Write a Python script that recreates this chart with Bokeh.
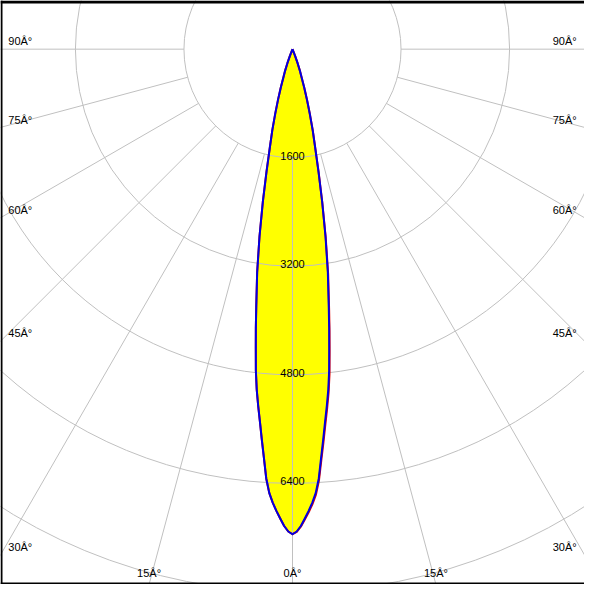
import numpy as np
from bokeh.plotting import figure
from bokeh.models import Range1d, ColumnDataSource, BoxAnnotation
from bokeh.core.properties import value
from bokeh.embed import file_html
from bokeh.resources import INLINE

# ---------------- data ----------------
angles_deg = [0, 0.5, 1, 1.5, 2, 2.5, 3, 3.5, 4, 4.5, 5, 5.5, 6, 6.5, 7, 7.5, 8,
              9, 10, 11, 12, 13, 14, 15, 16, 17, 18, 19, 20, 21, 22, 23]
# C90-C270 plane (blue), candela
intensity_blue = [7150, 7110, 7030, 6920, 6810, 6690, 6550, 6340, 6040, 5770, 5510, 5280,
                  5045, 4770, 4440, 4140, 3840,
                  3330, 2800, 2290, 1840, 1480, 1230, 980, 770, 590, 420, 330, 220, 110, 30, 0]
# C0-C180 plane (red), candela
intensity_red = [7150, 7115, 7040, 6935, 6830, 6715, 6580, 6375, 6080, 5815, 5555, 5325,
                 5090, 4820, 4490, 4180, 3880,
                 3360, 2820, 2300, 1850, 1485, 1235, 985, 775, 590, 420, 330, 220, 110, 30, 0]

ring_values = [1600, 3200, 4800, 6400, 8000]
ring_labels = ["1600", "3200", "4800", "6400"]

spoke_angles = [-90, -75, -60, -45, -30, -15, 0, 15, 30, 45, 60, 75, 90]
spoke_labels = ["90Â°", "75Â°", "60Â°", "45Â°", "30Â°", "15Â°", "0Â°",
                "15Â°", "30Â°", "45Â°", "60Â°", "75Â°", "90Â°"]

# ---------------- geometry ----------------
K = 0.0697          # reference pixels per candela
CX, CY = 300, 50     # centre of diagram in reference pixels
REF = 600
W = 584

def ref_x(px):
    return (px - CX) / K

def ref_y(py):
    return (CY - py) / K

p = figure(width=W, height=W, output_backend="svg", toolbar_location=None,
           x_range=Range1d(ref_x(0), ref_x(REF)), y_range=Range1d(ref_y(REF), ref_y(0)),
           min_border=0, border_fill_color="white", background_fill_color="white")
p.axis.visible = False
p.grid.visible = False
p.outline_line_color = None

def curve(vals_left, vals_right):
    th_l = np.radians(angles_deg[::-1])
    r_l = np.array(vals_left[::-1], dtype=float)
    th_r = np.radians(angles_deg[1:])
    r_r = np.array(vals_right[1:], dtype=float)
    xs = np.concatenate([-r_l * np.sin(th_l), r_r * np.sin(th_r)])
    ys = np.concatenate([-r_l * np.cos(th_l), -r_r * np.cos(th_r)])
    return xs, ys

bx, by = curve(intensity_blue, intensity_blue)
rx, ry = curve(intensity_blue, intensity_red)

# fill
p.patch(bx, by, fill_color="#FFFF00", line_color=None)

# grid circles
grid_col = "#C0C0C0"
p.circle(x=[0] * len(ring_values), y=[0] * len(ring_values), radius=ring_values,
         fill_color=None, line_color=grid_col, line_width=1)

# spokes
sa = np.radians(spoke_angles)
r0, r1 = ring_values[0], 14000
p.segment(x0=r0 * np.sin(sa), y0=-r0 * np.cos(sa), x1=r1 * np.sin(sa), y1=-r1 * np.cos(sa),
          line_color=grid_col, line_width=1)

# outlines
p.line(rx, ry, line_color="#E00000", line_width=2, line_join="round")
p.line(bx, by, line_color="#0000E0", line_width=2, line_join="round")

font = value("Liberation Sans")

# ring labels
p.text(x=[0] * len(ring_labels), y=[-v + 2 / K for v in ring_values[:len(ring_labels)]],
       text=ring_labels, text_font=font, text_font_size="11px", text_color="black",
       text_align="center", text_baseline="alphabetic")

# angle labels
X_EDGE = ref_x(REF)
Y_BOTTOM = ref_y(REF)
lx, ly, lt, la = [], [], [], []
for a, lab in zip(spoke_angles, spoke_labels):
    th = np.radians(a)
    s, c = np.sin(th), np.cos(th)
    t_side = X_EDGE / abs(s) if abs(s) > 1e-9 else np.inf
    t_bot = -Y_BOTTOM / c if c > 1e-9 else np.inf
    if t_side < t_bot:
        ey = -t_side * c
        ly.append(ey + 8 / K)
        if s < 0:
            lx.append(ref_x(8)); la.append("left")
        else:
            lx.append(ref_x(592)); la.append("right")
    else:
        lx.append(t_bot * s)
        ly.append(ref_y(588))
        la.append("center")
    lt.append(lab)

src = ColumnDataSource(dict(x=lx, y=ly, text=lt, align=la))
p.text(x="x", y="y", text="text", text_align="align", source=src, text_font=font,
       text_font_size="11px", text_color="black", text_baseline="middle")

# black edge on left, top and bottom (as in the reference image)
p.add_layout(BoxAnnotation(left=0, right=2, left_units="screen", right_units="screen",
                           fill_color="black", fill_alpha=1, line_color=None))
p.add_layout(BoxAnnotation(top=0, bottom=2, top_units="screen", bottom_units="screen",
                           fill_color="black", fill_alpha=1, line_color=None))
p.add_layout(BoxAnnotation(top=W - 3, bottom=W, top_units="screen", bottom_units="screen",
                           fill_color="black", fill_alpha=1, line_color=None))

open("out.html", "w", encoding="utf-8").write(file_html(p, INLINE))
